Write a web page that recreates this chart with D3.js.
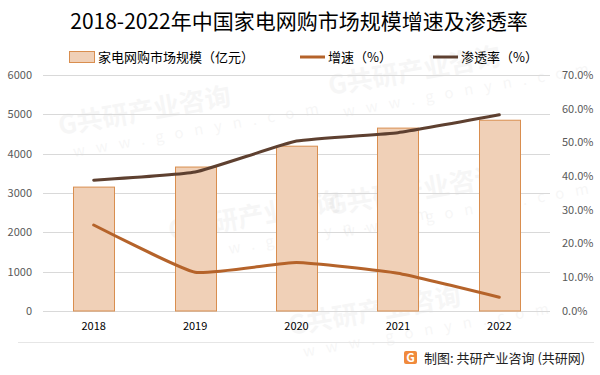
<!DOCTYPE html>
<html>
<head>
<meta charset="utf-8">
<script src="https://cdn.jsdelivr.net/npm/d3@7"></script>
<style>
  body { margin: 0; background: #fff; }
  svg { display: block; font-family: "Noto Sans CJK SC", "Noto Sans", sans-serif; }
</style>
</head>
<body>
<div id="chart"></div>
<script>
// data
var years = ["2018", "2019", "2020", "2021", "2022"];
var scale = [3150, 3660, 4190, 4650, 4850];       // 家电网购市场规模（亿元）
var growth = [25.5, 11.5, 14.4, 11.2, 4.1];        // 增速（%）
var penetration = [38.8, 41.2, 50.4, 52.9, 58.2];  // 渗透率（%）
var leftTicks = [0, 1000, 2000, 3000, 4000, 5000, 6000];
var rightTicks = [0, 10, 20, 30, 40, 50, 60, 70];

var w = 600, h = 375;
var plotLeft = 43, plotRight = 550, plotTop = 75, plotBottom = 311;

var svg = d3.select("#chart").append("svg")
    .attr("width", w)
    .attr("height", h);

// faint watermark
var marks = [[60, 135], [330, 95], [170, 240], [330, 215], [290, 335]];
marks.forEach(function(p) {
  var g = svg.append("g")
    .attr("transform", "translate(" + p[0] + "," + p[1] + ") rotate(-10)")
    .attr("fill", "#000")
    .attr("opacity", 0.03);
  g.append("text").attr("font-size", 26).attr("font-weight", "bold").text("G共研产业咨询");
  g.append("text").attr("x", 10).attr("y", 24).attr("font-size", 15).attr("letter-spacing", 11).text("www.gonyn.com");
});

var x = d3.scaleBand()
    .domain(years)
    .range([plotLeft, plotRight]);

var yL = d3.scaleLinear().domain([0, 6000]).range([plotBottom, plotTop]);
var yR = d3.scaleLinear().domain([0, 70]).range([plotBottom, plotTop]);

// gridlines
svg.append("g")
  .selectAll("line")
  .data(leftTicks)
  .enter()
  .append("line")
    .attr("x1", plotLeft)
    .attr("x2", plotRight)
    .attr("y1", function(d) { return Math.round(yL(d)) + 0.5; })
    .attr("y2", function(d) { return Math.round(yL(d)) + 0.5; })
    .attr("stroke", "#d9d9d9")
    .attr("stroke-width", 1);

// left axis labels
svg.append("g")
  .selectAll("text")
  .data(leftTicks)
  .enter()
  .append("text")
    .attr("x", 32)
    .attr("y", function(d) { return yL(d); })
    .attr("dy", "0.35em")
    .attr("text-anchor", "end")
    .attr("font-size", 11)
    .attr("fill", "#595959")
    .text(function(d) { return d; });

// right axis labels
svg.append("g")
  .selectAll("text")
  .data(rightTicks)
  .enter()
  .append("text")
    .attr("x", 562)
    .attr("y", function(d) { return yR(d); })
    .attr("dy", "0.35em")
    .attr("font-size", 11)
    .attr("fill", "#595959")
    .text(function(d) { return d.toFixed(1) + "%"; });

// x labels
svg.append("g")
  .selectAll("text")
  .data(years)
  .enter()
  .append("text")
    .attr("x", function(d) { return x(d) + x.bandwidth() / 2; })
    .attr("y", 326)
    .attr("dy", "0.35em")
    .attr("text-anchor", "middle")
    .attr("font-size", 11)
    .attr("fill", "#000")
    .text(function(d) { return d; });

// bars
var barW = 41;
svg.append("g")
  .selectAll("rect")
  .data(scale)
  .enter()
  .append("rect")
    .attr("x", function(d, i) { return Math.round(x(years[i]) + x.bandwidth() / 2 - barW / 2) + 0.5; })
    .attr("y", function(d) { return yL(d); })
    .attr("width", barW)
    .attr("height", function(d) { return yL(0) - yL(d); })
    .attr("fill", "#f0d0b7")
    .attr("stroke", "#d98e4f")
    .attr("stroke-width", 1);

// lines, lightly smoothed
var line = d3.line()
    .x(function(d, i) { return x(years[i]) + x.bandwidth() / 2; })
    .y(function(d) { return yR(d); })
    .curve(d3.curveCardinal.tension(0.6));

svg.append("path")
  .datum(growth)
  .attr("d", line)
  .attr("fill", "none")
  .attr("stroke", "#b5632a")
  .attr("stroke-width", 3)
  .attr("stroke-linecap", "round");

svg.append("path")
  .datum(penetration)
  .attr("d", line)
  .attr("fill", "none")
  .attr("stroke", "#5e4030")
  .attr("stroke-width", 3)
  .attr("stroke-linecap", "round");

// title
svg.append("text")
  .attr("x", 299)
  .attr("y", 22)
  .attr("dy", "0.35em")
  .attr("text-anchor", "middle")
  .attr("font-size", 21)
  .attr("fill", "#000")
  .text("2018-2022年中国家电网购市场规模增速及渗透率");

// legend
var lg = svg.append("g").attr("font-size", 13).attr("fill", "#000");
lg.append("rect")
  .attr("x", 69.5).attr("y", 51.5).attr("width", 25).attr("height", 11)
  .attr("fill", "#f0d0b7").attr("stroke", "#d98e4f");
lg.append("text").attr("x", 98).attr("y", 57).attr("dy", "0.35em").text("家电网购市场规模（亿元）");
lg.append("line").attr("x1", 300).attr("x2", 325).attr("y1", 57).attr("y2", 57)
  .attr("stroke", "#b5632a").attr("stroke-width", 3);
lg.append("text").attr("x", 328).attr("y", 57).attr("dy", "0.35em").text("增速（%）");
lg.append("line").attr("x1", 433).attr("x2", 458).attr("y1", 57).attr("y2", 57)
  .attr("stroke", "#5e4030").attr("stroke-width", 3);
lg.append("text").attr("x", 461).attr("y", 57).attr("dy", "0.35em").text("渗透率（%）");

// footer
svg.append("line")
  .attr("x1", 18).attr("x2", 594).attr("y1", 342.5).attr("y2", 342.5)
  .attr("stroke", "#e6e6e6");
var logo = svg.append("g").attr("transform", "translate(404,351)");
logo.append("rect").attr("width", 13).attr("height", 13).attr("rx", 2).attr("fill", "#f08a3c");
logo.append("text").attr("x", 6.5).attr("y", 11).attr("text-anchor", "middle")
  .attr("font-size", 12).attr("font-weight", "bold").attr("fill", "#fff").text("G");
svg.append("text")
  .attr("x", 424)
  .attr("y", 358)
  .attr("dy", "0.35em")
  .attr("font-size", 13)
  .attr("fill", "#222")
  .text("制图: 共研产业咨询 (共研网)");
</script>
</body>
</html>
